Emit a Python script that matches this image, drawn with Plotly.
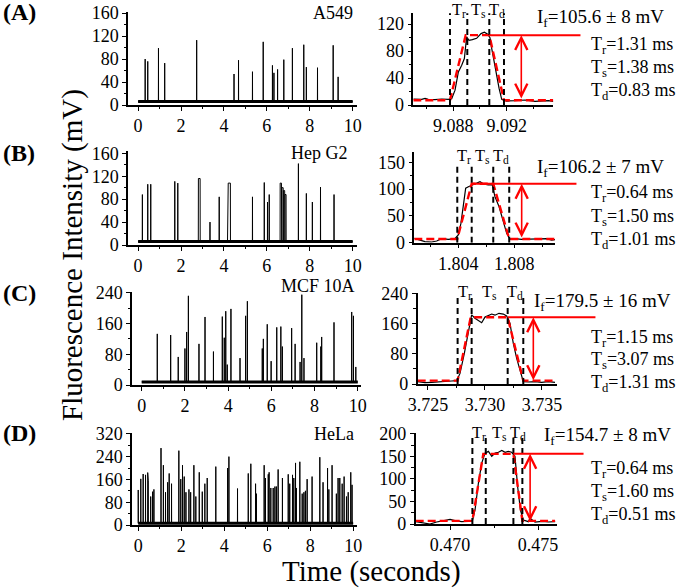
import plotly.graph_objects as go

# ------------------------------------------------------------------ data
# Left column: 10-s recordings, spike times (s), peak heights (mV), plateau widths (s)
A_times = [0.33, 0.45, 0.95, 1.24, 2.73, 4.47, 4.68, 5.33, 5.83, 6.26, 6.33, 6.50, 6.79,
           7.19, 7.72, 7.84, 8.36, 9.09, 9.32]
A_heights = [80, 76, 99, 73, 113, 54, 78, 58, 110, 69, 56, 62, 79, 99, 105, 66, 65, 104, 49]
A_widths = [0] * len(A_times)
A_base = 6

B_times = [0.20, 0.45, 0.59, 1.71, 1.85, 2.85, 3.35, 3.78, 4.17, 4.25, 5.33, 5.88, 6.03,
           6.11, 6.65, 6.73, 6.80, 6.87, 7.47, 7.84, 8.12, 8.50, 9.13]
B_heights = [88, 106, 106, 111, 108, 116, 40, 84, 88, 108, 84, 109, 75, 88, 108, 100, 95,
             88, 142, 90, 75, 101, 88]
B_widths = [0, 0, 0, 0, 0, 0.08, 0, 0, 0, 0.10, 0, 0, 0, 0, 0.06, 0.06, 0.06, 0.05,
            0, 0, 0, 0, 0]
B_base = 6

C_times = [0.72, 1.34, 1.69, 2.00, 2.08, 2.16, 2.65, 2.93, 3.32, 3.73, 3.82, 3.89, 3.96,
           4.13, 4.55, 4.81, 4.89, 5.58, 5.63, 5.81, 5.99, 6.25, 6.44, 6.51, 6.94, 7.10,
           7.33, 7.41, 7.51, 8.10, 8.29, 8.33, 8.90, 9.72, 9.80, 9.91]
C_heights = [133, 130, 73, 95, 138, 232, 107, 177, 87, 178, 123, 192, 53, 198, 70, 180,
             218, 95, 120, 158, 62, 150, 152, 100, 148, 107, 60, 235, 70, 110, 100, 125,
             163, 190, 180, 47]
C_widths = [0] * len(C_times)
C_base = 8

D_times = [0.00, 0.12, 0.23, 0.34, 0.44, 0.47, 0.58, 0.67, 0.73, 1.06, 1.17, 1.27, 1.37,
           1.44, 1.55, 1.89, 1.98, 2.06, 2.14, 2.22, 2.36, 2.44, 2.59, 2.68, 2.84, 2.98,
           3.10, 3.21, 3.61, 4.16, 4.22, 4.62, 5.12, 5.24, 5.46, 5.50, 5.86, 5.92, 6.05,
           6.09, 6.17, 6.28, 6.36, 6.43, 6.51, 6.71, 6.98, 7.05, 7.18, 7.24, 7.32, 7.36,
           7.52, 7.63, 7.71, 7.78, 7.86, 8.09, 8.45, 8.60, 8.81, 8.87, 9.02, 9.22, 9.30,
           9.38, 9.49, 9.58, 9.69, 9.77, 9.89, 9.95]
D_heights = [123, 162, 179, 176, 184, 155, 100, 117, 125, 270, 210, 115, 150, 181, 145,
             261, 161, 210, 170, 115, 125, 115, 210, 100, 185, 117, 145, 165, 205, 200,
             240, 128, 181, 215, 145, 110, 210, 165, 178, 185, 130, 130, 135, 135, 195,
             165, 178, 145, 176, 165, 218, 130, 222, 110, 115, 120, 161, 170, 238, 150,
             200, 125, 210, 110, 165, 165, 145, 170, 100, 115, 185, 141]
D_widths = [0] * len(D_times)
D_base = 6

# Right column: zoomed single peaks (time s, intensity mV)
A_zoom_t = [9.08500, 9.08563, 9.08588, 9.08612, 9.08663, 9.08713, 9.08763, 9.08788,
            9.08813, 9.08838, 9.08863, 9.08883, 9.08900, 9.08918, 9.08943, 9.08975,
            9.09008, 9.09033, 9.09058, 9.09075, 9.09088, 9.09108, 9.09125, 9.09143,
            9.09163, 9.09200, 9.09263, 9.09338, 9.09413, 9.09463, 9.09513, 9.09550]
A_zoom_v = [8.9, 8.4, 9.9, 8.4, 7.9, 8.9, 8.4, 9.4, 22, 49, 59, 69, 101, 96, 97, 99, 106,
            108, 105, 100, 84, 62, 44, 25, 8.4, 5.9, 6.4, 7.4, 5.4, 5.9, 6.4, 5.4]
A_marks = [9.08775, 9.08905, 9.0907, 9.0918]      # Tr start, Ts start, Td start, Td end
A_If = 103.7
A_fit_base = 7
A_fit_top_start = 9.08893

B_zoom_t = [1.80086, 1.80114, 1.80162, 1.80210, 1.80246, 1.80281, 1.80329, 1.80376,
            1.80400, 1.80419, 1.80436, 1.80453, 1.80476, 1.80500, 1.80531, 1.80555,
            1.80579, 1.80614, 1.80643, 1.80662, 1.80691, 1.80721, 1.80746, 1.80769,
            1.80805, 1.80853, 1.80900, 1.80948, 1.80996, 1.81031, 1.81067, 1.81091]
B_zoom_v = [8.1, 6.3, 1.9, 1.3, 3.1, 7.5, 6.3, 7.5, 14.4, 36, 74, 102, 105, 108, 111, 114,
            110, 108, 108, 86, 67.5, 42.5, 17.5, 6.9, 7.5, 6.3, 6.9, 6.3, 6.9, 7.5, 5, 5.6]
B_marks = [1.80393, 1.80496, 1.80650, 1.80764]
B_If = 110
B_fit_base = 7
B_fit_top_start = 1.80496

C_zoom_t = [3.72410, 3.72474, 3.72532, 3.72591, 3.72649, 3.72708, 3.72752, 3.72781,
            3.72819, 3.72854, 3.72883, 3.72912, 3.72941, 3.72971, 3.73000, 3.73029,
            3.73059, 3.73088, 3.73123, 3.73161, 3.73190, 3.73219, 3.73248, 3.73278,
            3.73313, 3.73336, 3.73380, 3.73439, 3.73497, 3.73556, 3.73614]
C_zoom_v = [6.2, 3.5, 4.4, 6.2, 7.1, 7.9, 8.8, 28, 81, 134, 183, 174, 168, 162, 177, 180,
            185, 182, 187, 185, 180, 161, 108, 68, 28, 6.2, 5.3, 6.2, 4.4, 6.2, 4.4]
C_marks = [3.72760, 3.72883, 3.73199, 3.73336]
C_If = 176.5
C_fit_base = 9
C_fit_top_start = 3.72875

D_zoom_t = [0.46805, 0.46848, 0.46886, 0.46924, 0.46962, 0.47000, 0.47028, 0.47066,
            0.47104, 0.47127, 0.47142, 0.47161, 0.47180, 0.47199, 0.47218, 0.47237,
            0.47256, 0.47275, 0.47294, 0.47313, 0.47331, 0.47350, 0.47369, 0.47384,
            0.47400, 0.47417, 0.47445, 0.47455, 0.47483, 0.47521, 0.47559, 0.47597]
D_zoom_v = [5.2, 3.0, 0.0, 4.4, 6.7, 10.4, 7.4, 5.2, 5.9, 7.4, 31, 90, 135, 157, 161, 150,
            157, 159, 163, 159, 161, 159, 150, 83, 31, 8.9, 5.2, 12.6, 4.4, 5.9, 4.4, 5.2]
D_marks = [0.47127, 0.47203, 0.47360, 0.47411]
D_If = 155.5
D_fit_base = 7
D_fit_top_start = 0.47189

cell_names = ["A549", "Hep G2", "MCF 10A", "HeLa"]
panel_tags = ["(A)", "(B)", "(C)", "(D)"]
If_labels = ["105.6 ± 8", "106.2 ± 7", "179.5 ± 16", "154.7 ± 8"]
Tr_vals = ["1.31", "0.64", "1.15", "0.64"]
Ts_vals = ["1.38", "1.50", "3.07", "1.60"]
Td_vals = ["0.83", "1.01", "1.31", "0.51"]
arrow_x = [9.0931, 1.80853, 3.73424, 0.47455]
arrow_bottom = [7.4, 6.9, 6.2, 3.0]
redline_end = [9.09765, 1.81255, 3.73982, 0.47767]
redline_start_idx = [2, 1, 2, 2]   # which marker the solid red level line starts at

# ------------------------------------------------------------------ layout geometry (px)
W, H = 685, 588
FONT = "Liberation Serif"


def fx(p):
    return p / W


def fy(p):
    return 1 - p / H


left_geom = [  # x0, x1, ybottom, ytop, xrange, yrange, ydtick
    (128, 357, 105, 12, [-0.47, 10.2], [0, 162], 40),
    (128, 357, 245, 151, [-0.47, 10.2], [0, 164], 40),
    (132, 361, 385, 292, [-0.45, 10.15], [0, 242], 80),
    (132, 357, 525, 433, [-0.29, 10.18], [0, 323], 80),
]
right_geom = [  # x0, x1, ybottom, ytop, xrange, yrange, ydtick, xtick0, xdtick
    (413.3, 553.3, 105, 12.7, [9.0850, 9.0955], [0, 137], 40, 9.088, 0.004),
    (414.3, 555.0, 242.7, 151.7, [1.80086, 1.81091], [0, 170], 50, 1.804, 0.004),
    (417.7, 556.7, 384, 292.5, [3.72410, 3.73629], [0, 242], 80, 3.725, 0.005),
    (415.7, 556.7, 524, 433.3, [0.46805, 0.47606], [0, 201], 50, 0.470, 0.005),
]
dash_top = [136, 149, 231, 195]
tag_y = [12, 153, 293, 433]
name_y = [13, 153, 286, 434]
name_right = [355, 350, 357, 356]
Tlab_y = [10, 156, 292, 433]
If_xy = [(535, 18), (535, 168), (532, 302), (542, 436)]
Tval_y = [(45, 69, 92), (193, 217, 240), (338, 360, 383), (469, 492, 515)]

left_data = [(A_times, A_heights, A_widths, A_base), (B_times, B_heights, B_widths, B_base),
             (C_times, C_heights, C_widths, C_base), (D_times, D_heights, D_widths, D_base)]
right_data = [(A_zoom_t, A_zoom_v, A_marks, A_If, A_fit_base, A_fit_top_start),
              (B_zoom_t, B_zoom_v, B_marks, B_If, B_fit_base, B_fit_top_start),
              (C_zoom_t, C_zoom_v, C_marks, C_If, C_fit_base, C_fit_top_start),
              (D_zoom_t, D_zoom_v, D_marks, D_If, D_fit_base, D_fit_top_start)]

fig = go.Figure()
layout = dict(width=W, height=H, margin=dict(l=0, r=0, t=0, b=0, autoexpand=False),
              autosize=False, template="none",
              plot_bgcolor="white", paper_bgcolor="white", showlegend=False,
              font=dict(family=FONT, color="black", size=18))
shapes, annotations = [], []

axis_common = dict(showline=True, linecolor="black", linewidth=1.5, showgrid=False,
                   zeroline=False, ticks="outside", ticklen=4, tickwidth=1.3,
                   automargin=False,
                   tickcolor="black", tickfont=dict(family=FONT, size=18, color="black"))


def spike_series(times, heights, widths, base):
    xs, ys = [0.0], [base]
    for t, h, w in sorted(zip(times, heights, widths)):
        a, b = t - w / 2, t + w / 2
        xs += [a - 0.004, a, b, b + 0.004]
        ys += [base, h, h, base]
    xs.append(10.0)
    ys.append(base)
    return xs, ys


for i in range(4):
    # ---------------- left panel
    li = 2 * i + 1
    ri = 2 * i + 2
    x0, x1, yb, yt, xr, yr, ydt = left_geom[i]
    xn = "xaxis" if li == 1 else f"xaxis{li}"
    yn = "yaxis" if li == 1 else f"yaxis{li}"
    xref = "x" if li == 1 else f"x{li}"
    yref = "y" if li == 1 else f"y{li}"
    layout[xn] = dict(axis_common, domain=[fx(x0), fx(x1)], range=xr, anchor=yref,
                      tickmode="linear", tick0=0, dtick=2,
                      minor=dict(ticks="outside", ticklen=2.5, tickwidth=1.2,
                                 tickcolor="black", dtick=1, tick0=0))
    layout[yn] = dict(axis_common, domain=[fy(yb), fy(yt)], range=yr, anchor=xref,
                      tickmode="linear", tick0=0, dtick=ydt,
                      minor=dict(ticks="outside", ticklen=2.5, tickwidth=1.2,
                                 tickcolor="black", dtick=ydt / 2, tick0=0))
    times, heights, widths, base = left_data[i]
    fig.add_trace(go.Scatter(x=[0, 10], y=[base, base], mode="lines",
                             line=dict(color="black", width=3), xaxis=xref, yaxis=yref,
                             hoverinfo="skip"))
    sx, sy = spike_series(times, heights, widths, base)
    fig.add_trace(go.Scatter(x=sx, y=sy, mode="lines",
                             line=dict(color="black", width=1), xaxis=xref, yaxis=yref))

    # ---------------- right panel
    x0, x1, yb, yt, xr, yr, ydt, xt0, xdt = right_geom[i]
    xn = f"xaxis{ri}"
    yn = f"yaxis{ri}"
    xref = f"x{ri}"
    yref = f"y{ri}"
    layout[xn] = dict(axis_common, domain=[fx(x0), fx(x1)], range=xr, anchor=yref,
                      tickmode="linear", tick0=xt0, dtick=xdt, tickformat=".3f",
                      minor=dict(ticks="outside", ticklen=2.5, tickwidth=1.2,
                                 tickcolor="black", dtick=xdt / 2, tick0=xt0))
    layout[yn] = dict(axis_common, domain=[fy(yb), fy(yt)], range=yr, anchor=xref,
                      tickmode="linear", tick0=0, dtick=ydt,
                      minor=dict(ticks="outside", ticklen=2.5, tickwidth=1.2,
                                 tickcolor="black", dtick=ydt / 2, tick0=0))
    zt, zv, marks, If, fbase, ftop = right_data[i]
    fig.add_trace(go.Scatter(x=zt, y=zv, mode="lines", line=dict(color="black", width=1.2),
                             xaxis=xref, yaxis=yref))
    fit_x = [zt[0], marks[0], ftop, marks[2], marks[3], zt[-1]]
    fit_y = [fbase, fbase, If, If, fbase, fbase]
    fig.add_trace(go.Scatter(x=fit_x, y=fit_y, mode="lines",
                             line=dict(color="#ff0000", width=2.4, dash="8px,4px"),
                             xaxis=xref, yaxis=yref))
    # dashed time markers
    for m in marks:
        shapes.append(dict(type="line", xref=xref, yref=yref, x0=m, x1=m, y0=0,
                           y1=dash_top[i], line=dict(color="black", width=2, dash="6px,4px")))
    # T labels centred between markers
    for k, lab in enumerate(["r", "s", "d"]):
        annotations.append(dict(x=(marks[k] + marks[k + 1]) / 2, xref=xref, y=fy(Tlab_y[i]),
                                yref="paper", text=f"T<sub>{lab}</sub>", showarrow=False,
                                xanchor="center", yanchor="middle",
                                font=dict(family=FONT, size=16.5)))
    # solid red level line (extends past the axis)
    annotations.append(dict(x=marks[redline_start_idx[i]], y=If, xref=xref, yref=yref,
                            ax=redline_end[i], ay=If, axref=xref, ayref=yref, text="",
                            showarrow=True, arrowhead=0, arrowwidth=2,
                            arrowcolor="#ff0000", standoff=0, startstandoff=0))
    # double-headed red arrow
    annotations.append(dict(x=arrow_x[i], y=If, xref=xref, yref=yref,
                            ax=arrow_x[i], ay=arrow_bottom[i], axref=xref, ayref=yref,
                            text="", showarrow=True, arrowside="end+start",
                            arrowhead=5, startarrowhead=5, arrowsize=1.5,
                            startarrowsize=1.5, arrowwidth=1.6, arrowcolor="#ff0000",
                            standoff=0, startstandoff=0))
    # texts
    annotations.append(dict(x=fx(1), y=fy(tag_y[i]), xref="paper", yref="paper",
                            text=f"<b>{panel_tags[i]}</b>", showarrow=False,
                            xanchor="left", yanchor="middle",
                            font=dict(family=FONT, size=24)))
    annotations.append(dict(x=fx(name_right[i]), y=fy(name_y[i]), xref="paper",
                            yref="paper", text=cell_names[i], showarrow=False,
                            xanchor="right", yanchor="middle",
                            font=dict(family=FONT, size=18)))
    ix, iy = If_xy[i]
    annotations.append(dict(x=fx(ix), y=fy(iy), xref="paper", yref="paper",
                            text=f"I<sub>f</sub>={If_labels[i]} mV", showarrow=False,
                            xanchor="left", yanchor="middle",
                            font=dict(family=FONT, size=19)))
    for lab, val, yy in zip(["r", "s", "d"], [Tr_vals[i], Ts_vals[i], Td_vals[i]], Tval_y[i]):
        annotations.append(dict(x=fx(589), y=fy(yy), xref="paper", yref="paper",
                                text=f"T<sub>{lab}</sub>={val} ms", showarrow=False,
                                xanchor="left", yanchor="middle",
                                font=dict(family=FONT, size=18)))

annotations.append(dict(x=fx(72), y=fy(255), xref="paper", yref="paper",
                        text="Fluorescence Intensity (mV)", textangle=-90, showarrow=False,
                        xanchor="center", yanchor="middle", font=dict(family=FONT, size=29)))
annotations.append(dict(x=fx(371), y=fy(571), xref="paper", yref="paper",
                        text="Time (seconds)", showarrow=False,
                        xanchor="center", yanchor="middle", font=dict(family=FONT, size=29)))

layout["shapes"] = shapes
layout["annotations"] = annotations
fig.update_layout(**layout)
fig.write_html("out.html", config={"displayModeBar": False},
               post_script="document.body.style.margin='0';document.body.style.overflow='hidden';")
